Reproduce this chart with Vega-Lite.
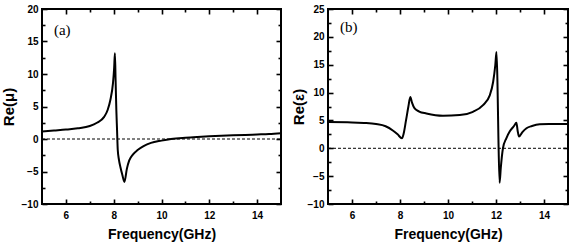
{
  "$schema": "https://vega.github.io/schema/vega-lite/v6.json",
  "autosize": {"type": "pad"},
  "padding": {"left": 0, "top": 3, "right": 2, "bottom": 4},
  "bounds": "flush",
  "spacing": 47,
  "background": "white",
  "config": {
    "view": {"stroke": "black", "strokeWidth": 2},
    "axis": {
      "domain": false,
      "grid": false,
      "zindex": 1,
      "labelFont": "Liberation Sans",
      "labelFontSize": 10,
      "labelFontWeight": "bold",
      "labelColor": "black",
      "tickColor": "black",
      "tickWidth": 1.6,
      "titleFont": "Liberation Sans",
      "titleFontSize": 14,
      "titleFontWeight": "bold",
      "titleColor": "black"
    }
  },
  "datasets": {
    "one": [{}],
    "mu": [
      {"f": 5.0, "v": 1.15}, {"f": 5.5, "v": 1.3}, {"f": 6.0, "v": 1.45}, {"f": 6.5, "v": 1.65},
      {"f": 7.0, "v": 2.0}, {"f": 7.3, "v": 2.5}, {"f": 7.6, "v": 3.4}, {"f": 7.75, "v": 4.5},
      {"f": 7.86, "v": 6.0}, {"f": 7.97, "v": 8.6}, {"f": 8.02, "v": 11.0}, {"f": 8.05, "v": 13.2},
      {"f": 8.08, "v": 9.0}, {"f": 8.11, "v": 4.5}, {"f": 8.14, "v": 1.4}, {"f": 8.17, "v": -1.7},
      {"f": 8.22, "v": -3.2}, {"f": 8.28, "v": -4.3}, {"f": 8.36, "v": -5.5}, {"f": 8.45, "v": -6.6},
      {"f": 8.55, "v": -4.6}, {"f": 8.65, "v": -3.3}, {"f": 8.8, "v": -2.4}, {"f": 9.0, "v": -1.7},
      {"f": 9.25, "v": -1.1}, {"f": 9.56, "v": -0.6}, {"f": 10.0, "v": -0.25}, {"f": 10.4, "v": 0.0},
      {"f": 11.0, "v": 0.2}, {"f": 11.5, "v": 0.32}, {"f": 12.0, "v": 0.42}, {"f": 12.5, "v": 0.5},
      {"f": 13.0, "v": 0.56}, {"f": 13.5, "v": 0.62}, {"f": 14.0, "v": 0.7}, {"f": 14.5, "v": 0.78},
      {"f": 15.0, "v": 0.9}
    ],
    "eps": [
      {"f": 5.0, "v": 4.7}, {"f": 6.0, "v": 4.65}, {"f": 6.5, "v": 4.55}, {"f": 7.0, "v": 4.35},
      {"f": 7.4, "v": 3.95}, {"f": 7.7, "v": 3.2}, {"f": 7.9, "v": 2.5}, {"f": 8.08, "v": 1.8},
      {"f": 8.15, "v": 2.6}, {"f": 8.25, "v": 5.0}, {"f": 8.35, "v": 7.5}, {"f": 8.43, "v": 9.2},
      {"f": 8.5, "v": 8.2}, {"f": 8.61, "v": 7.15}, {"f": 8.8, "v": 6.6}, {"f": 9.1, "v": 6.25},
      {"f": 9.79, "v": 5.84}, {"f": 10.49, "v": 5.96}, {"f": 11.04, "v": 6.55}, {"f": 11.46, "v": 7.75},
      {"f": 11.74, "v": 9.5}, {"f": 11.88, "v": 11.9}, {"f": 11.97, "v": 14.9}, {"f": 12.02, "v": 17.3},
      {"f": 12.06, "v": 12.0}, {"f": 12.1, "v": 2.0}, {"f": 12.15, "v": -6.2}, {"f": 12.2, "v": -3.5},
      {"f": 12.29, "v": 0.0}, {"f": 12.43, "v": 1.8}, {"f": 12.57, "v": 3.0}, {"f": 12.75, "v": 4.0},
      {"f": 12.85, "v": 4.6}, {"f": 12.9, "v": 3.2}, {"f": 12.96, "v": 2.1}, {"f": 13.1, "v": 2.9},
      {"f": 13.27, "v": 3.6}, {"f": 13.5, "v": 4.0}, {"f": 13.82, "v": 4.3}, {"f": 14.2, "v": 4.35},
      {"f": 14.6, "v": 4.35}, {"f": 15.0, "v": 4.35}
    ]
  },
  "hconcat": [
    {
      "width": 239,
      "height": 195,
      "resolve": {"axis": {"x": "independent", "y": "independent"}},
      "layer": [
        {
          "data": {"name": "mu"},
          "mark": {"type": "line", "color": "black", "strokeWidth": 2, "interpolate": "monotone"},
          "encoding": {
            "x": {"field": "f", "type": "quantitative", "scale": {"domain": [5, 15], "nice": false, "zero": false},
              "axis": {"orient": "bottom", "offset": -5, "ticks": true, "values": [6, 8, 10, 12, 14], "tickSize": 5, "labelPadding": 6, "title": "Frequency(GHz)", "titleY": 39, "titleBaseline": "alphabetic"}},
            "y": {"field": "v", "type": "quantitative", "scale": {"domain": [-10, 20], "nice": false, "zero": false},
              "axis": {"orient": "left", "offset": -5, "ticks": true, "values": [-10, -5, 0, 5, 10, 15, 20], "tickSize": 5, "labelPadding": 4, "title": "Re(μ)", "titleFontSize": 15, "titleX": -34, "titleBaseline": "alphabetic"}}
          }
        },
        {
          "data": {"name": "one"},
          "mark": {"type": "rule", "color": "black", "strokeWidth": 1, "strokeDash": [3, 2]},
          "encoding": {
            "x": {"datum": 5, "type": "quantitative", "scale": {"domain": [5, 15], "nice": false, "zero": false},
              "axis": {"orient": "top", "offset": -5, "ticks": true, "values": [6, 8, 10, 12, 14], "tickSize": 5, "labels": false, "title": null}},
            "x2": {"datum": 15},
            "y": {"datum": 0, "type": "quantitative", "scale": {"domain": [-10, 20], "nice": false, "zero": false},
              "axis": {"orient": "right", "offset": -5, "ticks": true, "values": [-10, -5, 0, 5, 10, 15, 20], "tickSize": 5, "labels": false, "title": null}}
          }
        },
        {
          "data": {"name": "one"},
          "mark": {"type": "text", "font": "Liberation Serif", "fontSize": 15, "align": "left", "baseline": "middle", "color": "black"},
          "encoding": {
            "x": {"datum": 5.5, "type": "quantitative", "scale": {"domain": [5, 15], "nice": false, "zero": false},
              "axis": {"orient": "bottom", "offset": -3, "ticks": true, "values": [7, 9, 11, 13], "tickSize": 3, "labels": false, "title": null}},
            "y": {"datum": 16.8, "type": "quantitative", "scale": {"domain": [-10, 20], "nice": false, "zero": false},
              "axis": {"orient": "left", "offset": -3, "ticks": true, "values": [-7.5, -2.5, 2.5, 7.5, 12.5, 17.5], "tickSize": 3, "labels": false, "title": null}},
            "text": {"value": "(a)"}
          }
        },
        {
          "data": {"name": "one"},
          "mark": {"type": "text"},
          "encoding": {
            "x": {"datum": 10, "type": "quantitative", "scale": {"domain": [5, 15], "nice": false, "zero": false},
              "axis": {"orient": "top", "offset": -3, "ticks": true, "values": [7, 9, 11, 13], "tickSize": 3, "labels": false, "title": null}},
            "y": {"datum": 0, "type": "quantitative", "scale": {"domain": [-10, 20], "nice": false, "zero": false},
              "axis": {"orient": "right", "offset": -3, "ticks": true, "values": [-7.5, -2.5, 2.5, 7.5, 12.5, 17.5], "tickSize": 3, "labels": false, "title": null}},
            "text": {"value": ""}
          }
        }
      ]
    },
    {
      "width": 240,
      "height": 195,
      "resolve": {"axis": {"x": "independent", "y": "independent"}},
      "layer": [
        {
          "data": {"name": "eps"},
          "mark": {"type": "line", "color": "black", "strokeWidth": 2, "interpolate": "monotone"},
          "encoding": {
            "x": {"field": "f", "type": "quantitative", "scale": {"domain": [5, 15], "nice": false, "zero": false},
              "axis": {"orient": "bottom", "offset": -5, "ticks": true, "values": [6, 8, 10, 12, 14], "tickSize": 5, "labelPadding": 6, "title": "Frequency(GHz)", "titleY": 39, "titleBaseline": "alphabetic"}},
            "y": {"field": "v", "type": "quantitative", "scale": {"domain": [-10, 25], "nice": false, "zero": false},
              "axis": {"orient": "left", "offset": -5, "ticks": true, "values": [-10, -5, 0, 5, 10, 15, 20, 25], "tickSize": 5, "labelPadding": 4, "title": "Re(ε)", "titleFontSize": 15, "titleX": -30, "titleBaseline": "alphabetic"}}
          }
        },
        {
          "data": {"name": "one"},
          "mark": {"type": "rule", "color": "black", "strokeWidth": 1, "strokeDash": [3, 2]},
          "encoding": {
            "x": {"datum": 5, "type": "quantitative", "scale": {"domain": [5, 15], "nice": false, "zero": false},
              "axis": {"orient": "top", "offset": -5, "ticks": true, "values": [6, 8, 10, 12, 14], "tickSize": 5, "labels": false, "title": null}},
            "x2": {"datum": 15},
            "y": {"datum": 0, "type": "quantitative", "scale": {"domain": [-10, 25], "nice": false, "zero": false},
              "axis": {"orient": "right", "offset": -5, "ticks": true, "values": [-10, -5, 0, 5, 10, 15, 20, 25], "tickSize": 5, "labels": false, "title": null}}
          }
        },
        {
          "data": {"name": "one"},
          "mark": {"type": "text", "font": "Liberation Serif", "fontSize": 15, "align": "left", "baseline": "middle", "color": "black"},
          "encoding": {
            "x": {"datum": 5.5, "type": "quantitative", "scale": {"domain": [5, 15], "nice": false, "zero": false},
              "axis": {"orient": "bottom", "offset": -3, "ticks": true, "values": [7, 9, 11, 13], "tickSize": 3, "labels": false, "title": null}},
            "y": {"datum": 21.7, "type": "quantitative", "scale": {"domain": [-10, 25], "nice": false, "zero": false},
              "axis": {"orient": "left", "offset": -3, "ticks": true, "values": [-7.5, -2.5, 2.5, 7.5, 12.5, 17.5, 22.5], "tickSize": 3, "labels": false, "title": null}},
            "text": {"value": "(b)"}
          }
        },
        {
          "data": {"name": "one"},
          "mark": {"type": "text"},
          "encoding": {
            "x": {"datum": 10, "type": "quantitative", "scale": {"domain": [5, 15], "nice": false, "zero": false},
              "axis": {"orient": "top", "offset": -3, "ticks": true, "values": [7, 9, 11, 13], "tickSize": 3, "labels": false, "title": null}},
            "y": {"datum": 0, "type": "quantitative", "scale": {"domain": [-10, 25], "nice": false, "zero": false},
              "axis": {"orient": "right", "offset": -3, "ticks": true, "values": [-7.5, -2.5, 2.5, 7.5, 12.5, 17.5, 22.5], "tickSize": 3, "labels": false, "title": null}},
            "text": {"value": ""}
          }
        }
      ]
    }
  ]
}
